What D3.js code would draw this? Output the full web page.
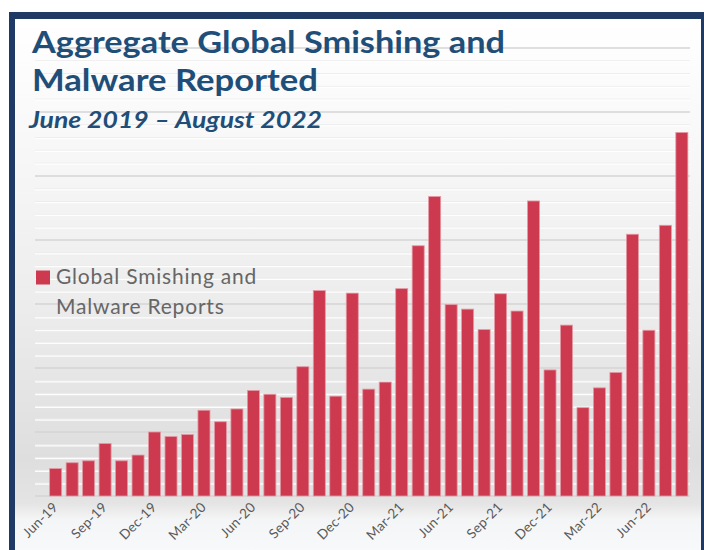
<!DOCTYPE html>
<html>
<head>
<meta charset="utf-8">
<script src="https://cdn.jsdelivr.net/npm/d3@7"></script>
<style>
  body { margin: 0; background: #fff; }
  svg { display: block; }
</style>
</head>
<body>
<div id="chart"></div>
<script>
// data (one major gridline = 10 units)
const months = [
  "Jun-19", "Jul-19", "Aug-19", "Sep-19", "Oct-19", "Nov-19", "Dec-19",
  "Jan-20", "Feb-20", "Mar-20", "Apr-20", "May-20", "Jun-20", "Jul-20",
  "Aug-20", "Sep-20", "Oct-20", "Nov-20", "Dec-20", "Jan-21", "Feb-21",
  "Mar-21", "Apr-21", "May-21", "Jun-21", "Jul-21", "Aug-21", "Sep-21",
  "Oct-21", "Nov-21", "Dec-21", "Jan-22", "Feb-22", "Mar-22", "Apr-22",
  "May-22", "Jun-22", "Jul-22", "Aug-22"
];
const reports = [
  4.3, 5.2, 5.5, 8.2, 5.5, 6.4, 10.0,
  9.3, 9.6, 13.4, 11.6, 13.6, 16.5, 15.9,
  15.4, 20.2, 32.1, 15.6, 31.7, 16.7, 17.8,
  32.4, 39.1, 46.8, 29.9, 29.2, 26.0, 31.6,
  28.9, 46.1, 19.7, 26.7, 13.8, 16.9, 19.3,
  40.9, 25.9, 42.3, 56.8
];
const tickLabels = ["Jun-19", "Sep-19", "Dec-19", "Mar-20", "Jun-20", "Sep-20",
  "Dec-20", "Mar-21", "Jun-21", "Sep-21", "Dec-21", "Mar-22", "Jun-22"];
const seriesName = ["Global Smishing and", "Malware Reports"];

const w = 704;
const h = 550;

const svg = d3.select("#chart")
  .append("svg")
  .attr("width", w)
  .attr("height", h);

const defs = svg.append("defs");
const bg = defs.append("linearGradient")
  .attr("id", "bg")
  .attr("x1", 0).attr("y1", 0).attr("x2", 0).attr("y2", 1);
bg.append("stop").attr("offset", "0%").attr("stop-color", "#ffffff");
bg.append("stop").attr("offset", "25%").attr("stop-color", "#f7f7f7");
bg.append("stop").attr("offset", "55%").attr("stop-color", "#ebebeb");
bg.append("stop").attr("offset", "80%").attr("stop-color", "#dedede");
bg.append("stop").attr("offset", "88%").attr("stop-color", "#e4e4e4");
bg.append("stop").attr("offset", "91%").attr("stop-color", "#f4f5f6");
bg.append("stop").attr("offset", "100%").attr("stop-color", "#fafbfc");

// frame
svg.append("rect")
  .attr("x", 9).attr("y", 12)
  .attr("width", w - 9).attr("height", h)
  .attr("fill", "#1f3a64");
svg.append("rect")
  .attr("x", 15).attr("y", 19)
  .attr("width", 686).attr("height", h)
  .attr("fill", "url(#bg)");

// scales
const x = d3.scaleBand()
  .domain(months)
  .range([47.5, 690])
  .paddingInner(0.27)
  .paddingOuter(0.13);

const y = d3.scaleLinear()
  .domain([0, 70])
  .range([496, 48]);

// gridlines
const grid = svg.append("g");
y.ticks(35).forEach((t) => {
  const major = t % 10 === 0;
  grid.append("line")
    .attr("x1", 35).attr("x2", 690)
    .attr("y1", y(t)).attr("y2", y(t))
    .attr("stroke", major ? "#d4d4d4" : "#ececec")
    .attr("stroke-width", major ? 1.5 : 1);
  if (!major) {
    grid.append("line")
      .attr("x1", 35).attr("x2", 690)
      .attr("y1", y(t) + 1).attr("y2", y(t) + 1)
      .attr("stroke", "#ffffff")
      .attr("stroke-opacity", 0.9)
      .attr("stroke-width", 1.2);
  }
});

// title
const title = svg.append("g")
  .attr("font-family", "Lato, sans-serif")
  .attr("font-weight", 700)
  .attr("fill", "#1f4e79");
title.append("text")
  .attr("x", 32).attr("y", 53)
  .attr("textLength", 473).attr("lengthAdjust", "spacingAndGlyphs")
  .attr("font-size", 31)
  .text("Aggregate Global Smishing and");
title.append("text")
  .attr("x", 32).attr("y", 91)
  .attr("textLength", 286).attr("lengthAdjust", "spacingAndGlyphs")
  .attr("font-size", 31)
  .text("Malware Reported");
title.append("text")
  .attr("x", 29).attr("y", 128)
  .attr("textLength", 293).attr("lengthAdjust", "spacingAndGlyphs")
  .attr("font-style", "italic")
  .attr("font-size", 23)
  .text("June 2019 \u2013 August 2022");

// bars
svg.append("g")
  .selectAll("rect")
  .data(reports)
  .enter()
  .append("rect")
  .attr("x", (d, i) => x(months[i]))
  .attr("y", (d) => y(d))
  .attr("width", x.bandwidth())
  .attr("height", (d) => y(0) - y(d))
  .attr("fill", "#cd3a4f")
  .attr("stroke", "#e49aa6")
  .attr("stroke-width", 0.8);

// x axis
const xAxis = d3.axisBottom(x)
  .tickValues(tickLabels)
  .tickSize(0)
  .tickPadding(0);

const axisG = svg.append("g")
  .attr("transform", "translate(0," + 504 + ")")
  .call(xAxis);
axisG.select(".domain").remove();
axisG.selectAll("text")
  .attr("font-family", "Lato, sans-serif")
  .attr("font-size", 13.5)
  .attr("letter-spacing", 0.3)
  .attr("fill", "#595959")
  .attr("text-anchor", "end")
  .attr("dy", 0)
  .attr("y", 0)
  .attr("x", 0)
  .attr("transform", "translate(3,4) rotate(-45)");

// legend
svg.append("rect")
  .attr("x", 36).attr("y", 270.5)
  .attr("width", 14).attr("height", 14)
  .attr("fill", "#cd3a4f");
svg.append("g")
  .selectAll("text")
  .data(seriesName)
  .enter()
  .append("text")
  .attr("x", 56)
  .attr("y", (d, i) => 284 + i * 30)
  .attr("font-family", "Lato, sans-serif")
  .attr("font-size", 21)
  .attr("letter-spacing", 0.8)
  .attr("fill", "#666666")
  .text((d) => d);
</script>
</body>
</html>
